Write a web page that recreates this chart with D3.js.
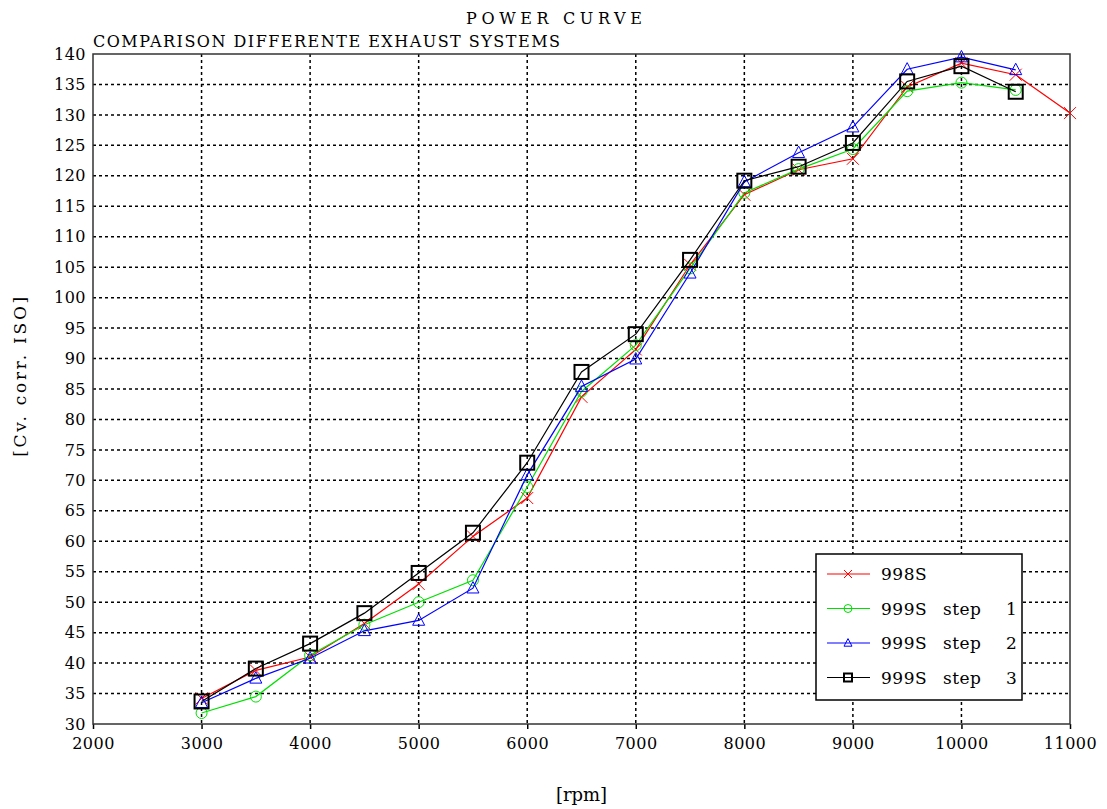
<!DOCTYPE html>
<html>
<head>
<meta charset="utf-8">
<script src="https://cdn.jsdelivr.net/npm/d3@7"></script>
<style>
  body { margin: 0; background: #fff; }
  text { font-family: "DejaVu Serif", serif; fill: #000; }
</style>
</head>
<body>
<div id="chart"></div>
<script>
// Data
var rpm = [3000, 3500, 4000, 4500, 5000, 5500, 6000, 6500, 7000, 7500, 8000, 8500, 9000, 9500, 10000, 10500, 11000];
var s998 = [34.2, 38.8, 41.0, 46.5, 53.0, 60.8, 67.1, 83.7, 91.5, 105.4, 116.9, 121.0, 122.8, 134.6, 138.5, 136.6, 130.3];
var s999step1 = [31.8, 34.5, 41.3, 46.3, 50.0, 53.6, 68.9, 84.6, 92.2, 104.8, 117.2, 121.1, 124.4, 133.9, 135.3, 134.1];
var s999step2 = [33.5, 37.5, 40.8, 45.3, 47.0, 52.3, 70.9, 85.4, 89.9, 104.0, 119.0, 123.8, 128.0, 137.5, 139.5, 137.4];
var s999step3 = [33.7, 39.1, 43.2, 48.2, 54.8, 61.4, 72.9, 87.8, 94.0, 106.2, 119.2, 121.5, 125.4, 135.5, 138.0, 133.8];
var seriesNames = ["998S", "999S  step  1", "999S  step  2", "999S  step  3"];
var xTicks = d3.range(2000, 11001, 1000);
var yTicks = d3.range(30, 141, 5);

var W = 1107, H = 809;
var margin = {top: 54, right: 37, bottom: 85, left: 93};
var width = W - margin.left - margin.right,
    height = H - margin.top - margin.bottom;

var svg = d3.select("#chart").append("svg")
  .attr("width", W).attr("height", H);

var g = svg.append("g")
  .attr("transform", "translate(" + margin.left + "," + margin.top + ")");

var xScale = d3.scaleLinear().domain([2000, 11000]).range([0, width]);
var yScale = d3.scaleLinear().domain([30, 140]).range([height, 0]);

// grid
g.selectAll("line.vgrid").data(xTicks.slice(1, -1)).enter().append("line")
  .attr("x1", function(d) { return xScale(d); }).attr("x2", function(d) { return xScale(d); })
  .attr("y1", 0).attr("y2", height)
  .style("stroke", "#000").style("stroke-width", 1.5).style("stroke-dasharray", "3,3");
g.selectAll("line.hgrid").data(yTicks.slice(1, -1)).enter().append("line")
  .attr("x1", 0).attr("x2", width)
  .attr("y1", function(d) { return yScale(d); }).attr("y2", function(d) { return yScale(d); })
  .style("stroke", "#000").style("stroke-width", 1.5).style("stroke-dasharray", "3,3");

// axes
var xAxis = d3.axisBottom(xScale).tickValues(xTicks).tickSize(5).tickPadding(9).tickFormat(d3.format("d"));
var yAxis = d3.axisLeft(yScale).tickValues(yTicks).tickSize(0).tickPadding(7).tickFormat(d3.format("d"));

var xg = g.append("g").attr("transform", "translate(0," + height + ")").call(xAxis);
var yg = g.append("g").call(yAxis);
[xg, yg].forEach(function(a) {
  a.select(".domain").remove();
  a.selectAll("text").style("font-family", "DejaVu Serif, serif").style("font-size", "16px")
    .style("letter-spacing", "0.5px").attr("fill", "#000");
  a.selectAll("line").style("stroke", "#000").style("stroke-width", 1.5);
});

// frame
g.append("rect").attr("x", 0).attr("y", 0).attr("width", width).attr("height", height)
  .style("fill", "none").style("stroke", "#333").style("stroke-width", 1.5);

// series
var series = [
  {name: seriesNames[0], values: s998, color: "#ff0000", marker: "x"},
  {name: seriesNames[1], values: s999step1, color: "#00e000", marker: "circle"},
  {name: seriesNames[2], values: s999step2, color: "#0000ff", marker: "triangle"},
  {name: seriesNames[3], values: s999step3, color: "#000000", marker: "square"}
];

function drawMarker(sel, type, color, size) {
  if (type === "x") {
    sel.append("path").attr("d", "M" + (-size) + "," + (-size) + "L" + size + "," + size + "M" + (-size) + "," + size + "L" + size + "," + (-size))
      .style("stroke", color).style("stroke-width", 1).style("fill", "none");
  } else if (type === "circle") {
    sel.append("circle").attr("r", size).style("stroke", color).style("stroke-width", 1).style("fill", "none");
  } else if (type === "triangle") {
    sel.append("path").attr("d", "M0," + (-size * 1.1) + "L" + size + "," + (size * 0.8) + "L" + (-size) + "," + (size * 0.8) + "Z")
      .style("stroke", color).style("stroke-width", 1).style("fill", "none");
  } else {
    sel.append("rect").attr("x", -size).attr("y", -size).attr("width", size * 2).attr("height", size * 2)
      .style("stroke", color).style("stroke-width", 2).style("fill", "none");
  }
}

var markerSize = {x: 6, circle: 5.5, triangle: 6, square: 7};

var line = d3.line()
  .x(function(d) { return xScale(d[0]); })
  .y(function(d) { return yScale(d[1]); });

series.forEach(function(s) {
  var pts = s.values.map(function(v, i) { return [rpm[i], v]; });
  g.append("path").datum(pts).attr("d", line)
    .style("fill", "none").style("stroke", s.color).style("stroke-width", 1.2);
  g.selectAll(null).data(pts).enter().append("g")
    .attr("transform", function(d) { return "translate(" + xScale(d[0]) + "," + yScale(d[1]) + ")"; })
    .each(function() { drawMarker(d3.select(this), s.marker, s.color, markerSize[s.marker]); });
});

// legend
var legend = svg.append("g").attr("transform", "translate(816,554)");
legend.append("rect").attr("width", 206).attr("height", 146)
  .style("fill", "#fff").style("stroke", "#000").style("stroke-width", 1.5);
series.forEach(function(s, i) {
  var y = 20 + i * 34.5;
  legend.append("line").attr("x1", 11).attr("x2", 54).attr("y1", y).attr("y2", y)
    .style("stroke", s.color).style("stroke-width", 1.2);
  var m = legend.append("g").attr("transform", "translate(32," + y + ")");
  drawMarker(m, s.marker, s.color, 4);
  var parts = s.name.split(/\s+/);
  var xs = [65, 127, 190];
  parts.forEach(function(p, j) {
    legend.append("text").attr("x", xs[j]).attr("y", y + 6)
      .style("font-size", "17px").style("letter-spacing", "0.5px").text(p);
  });
});

// titles
svg.append("text").attr("x", 466).attr("y", 24).attr("textLength", 176)
  .style("font-size", "16px").text("POWER CURVE");
svg.append("text").attr("x", 93).attr("y", 47).attr("textLength", 467)
  .style("font-size", "16px").text("COMPARISON DIFFERENTE EXHAUST SYSTEMS");

svg.append("text").attr("x", margin.left + xScale(6500)).attr("y", 801)
  .attr("text-anchor", "middle").style("font-size", "18px").text("[rpm]");
svg.append("text").attr("transform", "translate(26," + (margin.top + yScale(87)) + ") rotate(-90)")
  .attr("text-anchor", "middle").style("font-size", "17px").attr("textLength", 160).text("[Cv. corr. ISO]");
</script>
</body>
</html>
